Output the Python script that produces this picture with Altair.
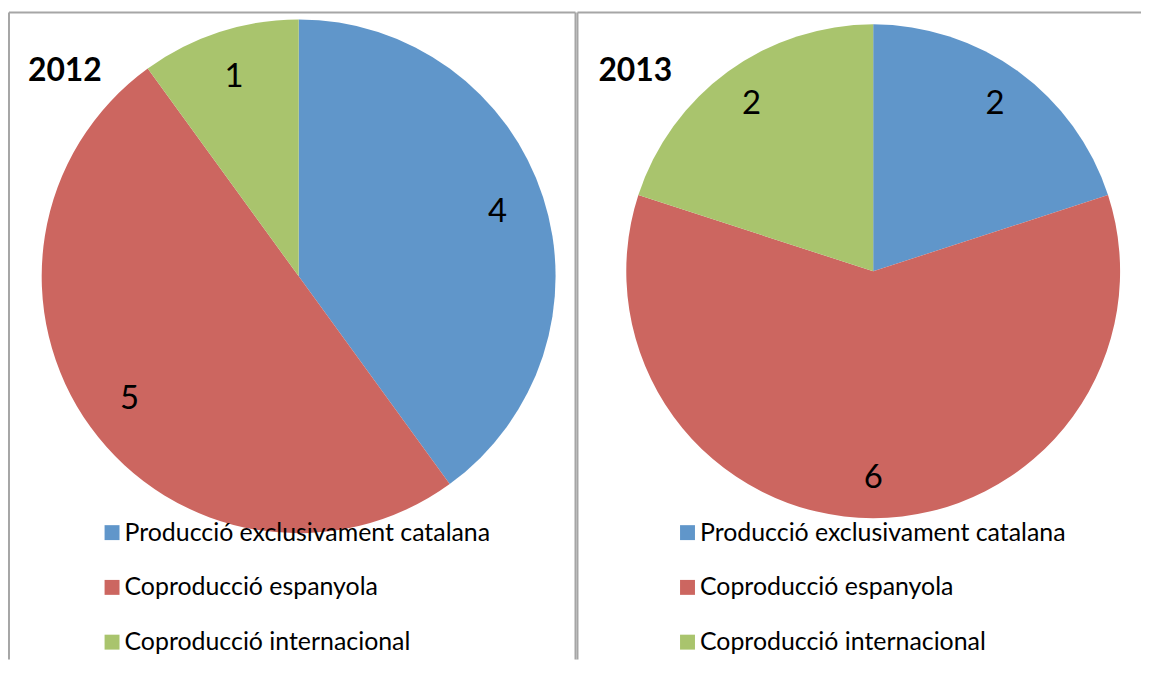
import altair as alt
import pandas as pd

categories = ["Producció exclusivament catalana", "Coproducció espanyola", "Coproducció internacional"]
values_2012 = [4, 5, 1]
values_2013 = [2, 6, 2]
years = ["2012", "2013"]
colors = ["#6096CA", "#CC6660", "#A9C46D"]

FONT = "Lato"
H = 650


def panel(year, values, w, cx, cy, r, lr, lx, tx, rules):
    df = pd.DataFrame({"cat": categories, "value": values, "ord": list(range(len(values)))})
    base = alt.Chart(df).encode(
        theta=alt.Theta("value:Q", stack=True),
        order=alt.Order("ord:Q"),
    )
    arc = base.mark_arc(radius=r, stroke=None).encode(
        x=alt.value(cx), y=alt.value(cy),
        color=alt.Color(
            "cat:N",
            scale=alt.Scale(domain=categories, range=colors),
            sort=categories,
            legend=alt.Legend(
                title=None, orient="none", legendX=lx, legendY=510,
                symbolType="square", symbolSize=225, symbolStrokeWidth=0,
                labelFont=FONT, labelFontSize=25, labelColor="#000000",
                labelOffset=0, rowPadding=29, labelLimit=600,
            ),
        ),
    )
    labels = base.mark_text(radius=lr, font=FONT, fontSize=33, color="#000000").encode(
        x=alt.value(cx), y=alt.value(cy), text="value:Q",
    )
    title = alt.Chart(pd.DataFrame({"t": [year]})).mark_text(
        font=FONT, fontSize=32, fontWeight="bold", align="left", baseline="alphabetic", color="#000000"
    ).encode(x=alt.value(tx), y=alt.value(69), text="t:N")
    layers = [arc, labels, title]
    for (x1, x2, y1, y2) in rules:
        layers.append(
            alt.Chart(pd.DataFrame({"a": [0]})).mark_rule(color="#A6A6A6", strokeWidth=2).encode(
                x=alt.value(x1), x2=alt.value(x2), y=alt.value(y1), y2=alt.value(y2)
            )
        )
    return alt.layer(*layers).properties(width=w, height=H)


left = panel(years[0], values_2012, 568, 290, 265, 258, 210, 90, 18,
             [(-1, -1, 0, H), (-1, 568, 0, 0), (568, 568, 0, H)])
right = panel(years[1], values_2013, 566, 297, 260, 248, 208, 98, 21,
              [(0, 566, 0, 0), (0, 0, 0, H)])

chart = alt.hconcat(left, right, spacing=0).resolve_legend(color="independent").resolve_scale(
    color="independent", theta="independent"
).properties(
    padding={"left": 0, "top": 2, "right": 0, "bottom": 0}
).configure_view(stroke=None)

chart.save("out.html", embed_options={"renderer": "svg", "actions": False})
